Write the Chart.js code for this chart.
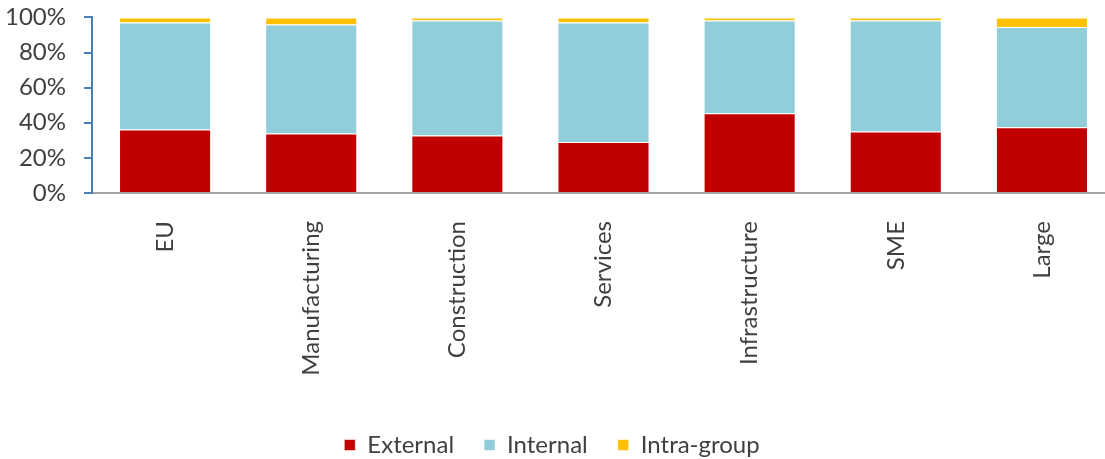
<!DOCTYPE html>
<html>
<head>
<meta charset="utf-8">
<script src="https://cdn.jsdelivr.net/npm/chart.js@4.4.1/dist/chart.umd.min.js"></script>
<style>
    html, body { margin: 0; padding: 0; background: #fff; overflow: hidden; }
    #financingChart { display: block; margin-top: -15px; }
</style>
</head>
<body>
<canvas id="financingChart" width="1116" height="482"></canvas>
<script>
const categories = ['EU', 'Manufacturing', 'Construction', 'Services', 'Infrastructure', 'SME', 'Large'];
const external = [36.2, 33.9, 32.8, 29.1, 45.4, 35.0, 37.5];
const internal = [60.9, 62.1, 65.5, 68.0, 52.9, 63.3, 57.1];
const intraGroup = [2.9, 4.0, 1.7, 2.9, 1.7, 1.7, 5.4];
const yTicks = [0, 20, 40, 60, 80, 100];

const textColor = '#404040';
const font = { family: 'Lato', size: 24 };

// the plot runs a little past the right edge, so pull the legend back to the window centre
const legendShift = {
    id: 'legendShift',
    afterLayout(chart) {
        const off = (chart.width - window.innerWidth) / 2;
        chart.legend.left -= off;
        chart.legend.right -= off;
    },
};

new Chart(document.getElementById('financingChart'), {
    type: 'bar',
    data: {
        labels: categories,
        datasets: [
            {
                label: 'External',
                data: external,
                backgroundColor: '#C00000',
                borderColor: 'rgba(255, 255, 255, 0.55)',
                borderWidth: 1,
            },
            {
                label: 'Internal',
                data: internal,
                backgroundColor: '#92CDDC',
                borderColor: 'rgba(255, 255, 255, 0.55)',
                borderWidth: 1,
            },
            {
                label: 'Intra-group',
                data: intraGroup,
                backgroundColor: '#FFC000',
                borderColor: 'rgba(255, 255, 255, 0.55)',
                borderWidth: 1,
            },
        ],
    },
    plugins: [legendShift],
    options: {
        responsive: false,
        animation: false,
        categoryPercentage: 1,
        barPercentage: 0.63,
        layout: {
            padding: { top: 0, right: 1, left: 0, bottom: 0 },
        },
        plugins: {
            legend: {
                position: 'bottom',
                labels: {
                    color: textColor,
                    font: font,
                    boxWidth: 11,
                    boxHeight: 11,
                    padding: 30,
                },
            },
            tooltip: { enabled: false },
        },
        scales: {
            x: {
                stacked: true,
                offset: true,
                grid: { display: false },
                border: { display: true, color: '#A6A6A6', width: 2 },
                ticks: {
                    color: textColor,
                    font: font,
                    minRotation: 90,
                    maxRotation: 90,
                    padding: 20,
                },
                afterFit: function (scale) {
                    scale.height = 210;
                },
            },
            y: {
                stacked: true,
                min: 0,
                max: 100,
                afterBuildTicks: function (scale) {
                    scale.ticks = yTicks.map(v => ({ value: v }));
                },
                grid: {
                    drawOnChartArea: false,
                    drawTicks: true,
                    tickLength: 8,
                    color: '#4A7EBB',
                    lineWidth: 2,
                },
                border: { display: true, color: '#4A7EBB', width: 2 },
                ticks: {
                    color: textColor,
                    font: font,
                    padding: 18,
                    callback: function (value) {
                        return value + '%';
                    },
                },
                afterFit: function (scale) {
                    scale.width = 92;
                },
            },
        },
    },
});
</script>
</body>
</html>
